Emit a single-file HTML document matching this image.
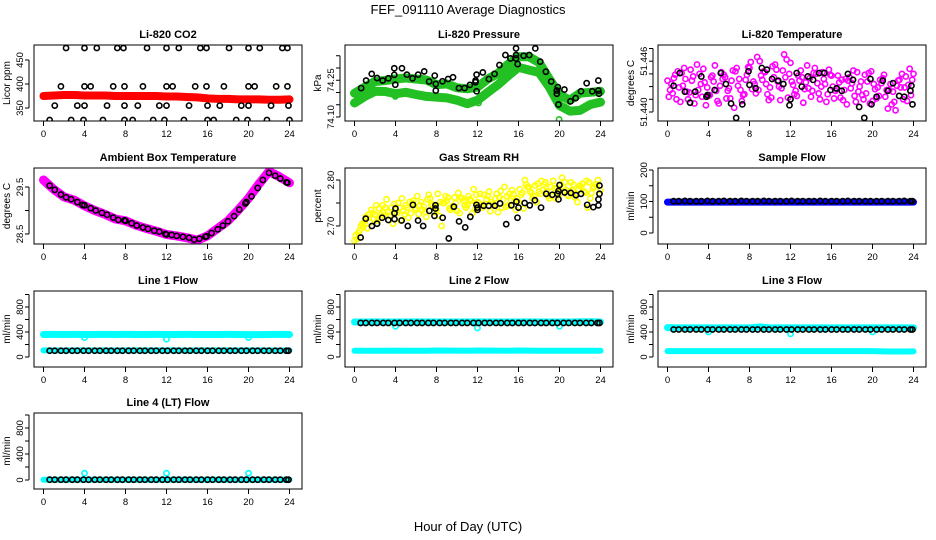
<!DOCTYPE html>
<html><head><meta charset="utf-8">
<style>
html,body{margin:0;padding:0;background:#fff;}
svg{display:block;font-family:"Liberation Sans",sans-serif;}
</style></head>
<body>
<svg id="chart" width="936" height="540" viewBox="0 0 936 540" xmlns="http://www.w3.org/2000/svg">
<text x="468" y="14" font-size="13" text-anchor="middle">FEF_091110  Average Diagnostics</text>
<text x="468" y="531" font-size="13" text-anchor="middle">Hour of Day (UTC)</text>
</svg>
<script>
// ---------- data ----------
const xTicks = [0,4,8,12,16,20,24];
const hours = [0,1,2,3,4,5,6,7,8,9,10,11,12,13,14,15,16,17,18,19,20,21,22,23,24];

const co2Red = [375,376,377,377,376,376,376,375,375,375,375,375,374,374,373,372,370,369,369,368,368,368,367,367,368];
const co2BlackT = [2.2,4.0,5.2,7.2,7.8,10.1,12.0,13.2,15.3,15.9,18.1,20.0,21.1,23.3,23.8,
  1.7,4.0,4.6,6.8,7.9,9.7,12.0,12.6,14.8,15.9,17.6,20.0,20.6,22.7,23.8,
  1.1,3.3,4.0,6.2,7.9,9.2,11.3,12.0,14.2,16.0,17.2,19.3,20.0,22.2,23.9,
  0.6,2.7,3.9,5.8,7.9,8.7,10.7,11.8,13.7,16.0,16.6,18.8,19.9,21.8,24.0];
const co2BlackV = [475,475,475,475,475,475,475,475,475,475,475,475,475,475,475,
  395,395,395,395,395,395,395,395,395,395,395,395,395,395,395,
  355,355,355,355,355,355,355,355,355,355,355,355,355,355,355,
  325,325,325,325,325,325,325,325,325,325,325,325,325,325,325];

const presUpper = [74.197,74.222,74.245,74.249,74.255,74.259,74.255,74.251,74.232,74.235,74.219,74.215,74.222,74.255,74.278,74.316,74.346,74.346,74.323,74.255,74.192,74.168,74.197,74.201,74.205];
const presLower = [74.157,74.184,74.205,74.204,74.195,74.201,74.192,74.184,74.181,74.178,74.168,74.154,74.168,74.201,74.232,74.269,74.303,74.292,74.282,74.222,74.147,74.124,74.127,74.151,74.161];
const presGreenOutT = [3.98,12.1,19.96];
const presGreenOutV = [74.184,74.157,74.09];
const presBlackT = [0.65,1.13,1.68,2.20,2.75,3.30,3.88,3.88,3.98,4.63,5.11,5.66,6.21,6.80,7.28,7.83,7.93,7.93,8.58,9.13,9.61,10.19,10.74,11.26,11.81,11.81,11.91,11.91,12.52,13.11,13.66,14.14,14.72,15.21,15.76,15.76,15.76,15.92,16.50,17.05,17.64,18.12,18.67,19.19,19.74,19.74,19.84,19.90,20.48,21.07,21.58,22.10,22.65,23.20,23.79,23.79,23.85];
const presBlackV = [74.218,74.249,74.276,74.259,74.249,74.258,74.272,74.299,74.232,74.299,74.273,74.258,74.273,74.286,74.245,74.269,74.235,74.208,74.246,74.255,74.262,74.218,74.218,74.231,74.242,74.249,74.205,74.273,74.282,74.255,74.276,74.312,74.353,74.339,74.353,74.339,74.380,74.316,74.350,74.353,74.380,74.326,74.285,74.245,74.208,74.195,74.222,74.151,74.212,74.164,74.177,74.205,74.238,74.205,74.208,74.249,74.195];

const tempA = [51.4437,51.4422,51.4448,51.4431,51.4415,51.4442,51.4426,51.4451,51.4419,51.4436,51.4410,51.4444,51.4428,51.4405,51.4439,51.4421,51.4452,51.4433,51.4460,51.4447,51.4429,51.4456,51.4414,51.4441,51.4458,51.4425,51.4449,51.4435,51.4418,51.4445,51.4430,51.4412,51.4443,51.4427,51.4438,51.4409,51.4434,51.4447,51.4420,51.4436,51.4413,51.4429,51.4440,51.4404,51.4424,51.4437,51.4415,51.4432,51.4445];
const tempB = [51.4426,51.4444,51.4412,51.4439,51.4450,51.4420,51.4433,51.4408,51.4441,51.4425,51.4447,51.4416,51.4437,51.4452,51.4413,51.4444,51.4427,51.4465,51.4438,51.4421,51.4454,51.4436,51.4449,51.4417,51.4432,51.4443,51.4411,51.4428,51.4446,51.4422,51.4439,51.4450,51.4416,51.4435,51.4426,51.4441,51.4419,51.4430,51.4444,51.4410,51.4427,51.4438,51.4418,51.4433,51.4402,51.4429,51.4442,51.4420];
const tempC = [51.4418,51.4440,51.4429,51.4452,51.4423,51.4410,51.4445,51.4435,51.4420,51.4455,51.4431,51.4441,51.4416,51.4448,51.4426,51.4438,51.4459,51.4422,51.4443,51.4433,51.4417,51.4450,51.4428,51.4462,51.4436,51.4419,51.4441,51.4455,51.4425,51.4434,51.4447,51.4421,51.4430,51.4443,51.4414,51.4437,51.4449,51.4424,51.4415,51.4446,51.4433,51.4419,51.4444,51.4426,51.4412,51.4438,51.4429,51.4451];
const tempD = [51.4433,51.4415,51.4446,51.4424,51.4437,51.4456,51.4418,51.4429,51.4443,51.4413,51.4439,51.4425,51.4449,51.4431,51.4420,51.4453,51.4436,51.4426,51.4448,51.4414,51.4441,51.4430,51.4468,51.4445,51.4421,51.4437,51.4427,51.4440,51.4452,51.4415,51.4433,51.4444,51.4425,51.4417,51.4439,51.4428,51.4412,51.4436,51.4422,51.4448,51.4416,51.4434,51.4426,51.4409,51.4431,51.4445,51.4413,51.4438];
const tempBlackT = [0.6,1.2,1.7,2.2,2.7,3.3,3.8,3.9,4.6,5.2,5.7,6.2,6.7,7.3,7.9,8.0,8.6,9.2,9.7,10.2,10.8,11.3,11.9,12.0,12.6,13.1,13.7,14.2,14.8,15.3,15.9,16.5,17.0,17.6,18.1,18.7,19.2,19.8,19.9,20.4,21.0,21.5,22.0,22.6,23.1,23.7,23.8,23.9];
const tempBlackV = [51.4431,51.4446,51.4424,51.4411,51.4424,51.4442,51.4418,51.4420,51.4426,51.4446,51.4433,51.4410,51.4393,51.4409,51.4448,51.4432,51.4428,51.4452,51.4450,51.4439,51.4437,51.4433,51.4408,51.4415,51.4446,51.4430,51.4442,51.4438,51.4446,51.4446,51.4426,51.4428,51.4425,51.4445,51.4438,51.4406,51.4393,51.4439,51.4409,51.4418,51.4437,51.4425,51.4434,51.4419,51.4418,51.4425,51.4431,51.4409];

const ambBand = [29.65,29.45,29.29,29.22,29.10,29.00,28.92,28.82,28.78,28.69,28.62,28.56,28.49,28.46,28.42,28.37,28.46,28.62,28.78,29.01,29.26,29.56,29.83,29.72,29.59];
const ambBlackT = [0.6,1.1,1.7,2.2,2.7,3.3,3.8,4.0,4.6,5.1,5.7,6.2,6.8,7.3,7.9,8.0,8.6,9.1,9.7,10.2,10.8,11.3,11.9,12.0,12.5,13.0,13.6,14.2,14.7,15.2,15.8,15.9,16.4,17.0,17.5,18.0,18.6,19.1,19.7,19.8,20.3,20.9,21.4,22.0,22.6,23.1,23.7,23.8];
const ambBlackV = [29.53,29.44,29.34,29.28,29.24,29.18,29.12,29.11,29.05,29.00,28.95,28.91,28.85,28.80,28.79,28.78,28.73,28.68,28.64,28.61,28.57,28.55,28.50,28.49,28.48,28.46,28.44,28.42,28.38,28.40,28.44,28.45,28.52,28.60,28.68,28.77,28.88,29.02,29.15,29.18,29.30,29.48,29.65,29.80,29.74,29.68,29.60,29.59];

const rhA = [2.668,2.690,2.712,2.708,2.725,2.718,2.740,2.722,2.735,2.712,2.745,2.728,2.738,2.752,2.720,2.748,2.735,2.700,2.755,2.742,2.733,2.760,2.745,2.728,2.752,2.740,2.765,2.748,2.730,2.758,2.745,2.770,2.752,2.738,2.785,2.765,2.775,2.790,2.760,2.782,2.770,2.795,2.776,2.762,2.788,2.772,2.760,2.790,2.778];
const rhB = [2.672,2.705,2.695,2.728,2.712,2.745,2.730,2.705,2.750,2.732,2.718,2.755,2.726,2.742,2.768,2.730,2.722,2.750,2.738,2.762,2.728,2.745,2.758,2.736,2.770,2.748,2.732,2.760,2.776,2.742,2.755,2.735,2.768,2.790,2.772,2.752,2.798,2.775,2.765,2.782,2.805,2.768,2.778,2.752,2.792,2.740,2.782,2.800];
const rhC = [2.680,2.700,2.720,2.735,2.745,2.725,2.758,2.740,2.728,2.760,2.740,2.750,2.765,2.735,2.758,2.745,2.770,2.750,2.762,2.738,2.772,2.755,2.765,2.780,2.750,2.768,2.775,2.745,2.762,2.785,2.770,2.755,2.780,2.800,2.775,2.788,2.770,2.795,2.785,2.760,2.790,2.778,2.795,2.770,2.785,2.798,2.772,2.790];
const rhD = [2.685,2.698,2.725,2.715,2.738,2.730,2.722,2.748,2.740,2.725,2.752,2.735,2.745,2.730,2.760,2.742,2.752,2.765,2.735,2.750,2.762,2.740,2.755,2.768,2.745,2.758,2.752,2.770,2.740,2.765,2.778,2.760,2.772,2.785,2.760,2.792,2.778,2.765,2.798,2.775,2.785,2.765,2.790,2.780,2.775,2.795,2.785,2.770];
const rhBlackT = [0.6,1.1,1.7,2.2,2.7,3.3,3.9,3.9,4.0,4.6,5.2,5.7,6.2,6.7,7.3,7.8,7.9,7.9,8.6,9.2,9.7,10.2,10.8,11.3,11.9,12.0,12.0,12.6,13.1,13.7,14.2,14.8,15.3,15.8,15.9,16.0,16.6,17.1,17.6,18.2,18.7,19.3,19.8,19.9,19.9,20.0,20.5,21.1,21.6,22.1,22.7,23.3,23.8,23.8,23.9,23.9];
const rhBlackV = [2.675,2.716,2.700,2.705,2.718,2.713,2.715,2.728,2.738,2.712,2.700,2.746,2.712,2.700,2.733,2.722,2.745,2.738,2.718,2.673,2.742,2.710,2.697,2.720,2.746,2.740,2.735,2.744,2.744,2.744,2.749,2.704,2.745,2.753,2.718,2.740,2.750,2.745,2.756,2.740,2.770,2.768,2.770,2.758,2.776,2.789,2.773,2.772,2.767,2.770,2.746,2.741,2.745,2.758,2.770,2.788];

const flowT = [0.6,1.1,1.7,2.2,2.8,3.3,3.9,4.4,5.0,5.5,6.1,6.6,7.2,7.7,8.3,8.8,9.4,9.9,10.5,11.0,11.6,12.1,12.7,13.2,13.8,14.3,14.9,15.4,16.0,16.5,17.1,17.6,18.2,18.7,19.3,19.8,20.4,20.9,21.5,22.0,22.6,23.1,23.7,23.9];
const sampleBlue = [98,98,98,98,98,98,98,98,98,98,98,98,98,98,98,98,98,98,98,98,98,98,98,98,98];
const sampleBlack = [101,101,102,101,101,101,102,101,101,102,101,101,102,101,101,101,102,101,101,101,101,102,101,101,101,101,102,101,101,101,101,102,101,101,101,101,101,101,101,101,101,102,101,101];
const l1Upper = [360,362,360,361,360,360,361,360,362,360,360,361,360,360,361,360,360,360,361,360,358,358,360,361,360];
const l1Lower = [105,105,104,105,105,105,105,104,105,105,105,105,105,105,104,105,105,105,105,105,105,105,105,104,105];
const l1Black = [100,100,100,100,100,100,100,100,100,100,100,100,100,100,100,100,100,100,100,100,100,100,100,100,100,100,100,100,100,100,100,100,100,100,100,100,100,100,100,100,100,100,100,100];
const l1OutT = [4.0,12.0,20.0];
const l1OutV = [310,285,310];
const l2Upper = [560,560,561,560,560,560,561,560,560,560,560,560,561,560,560,560,560,561,560,560,560,560,561,565,560];
const l2Lower = [100,100,100,100,102,100,100,100,104,102,102,100,104,103,102,100,104,103,100,100,100,100,100,100,100];
const l2Black = [545,545,545,545,545,545,545,545,545,545,545,545,545,545,545,545,545,545,545,545,545,545,545,545,545,545,545,545,545,545,545,545,545,545,545,545,545,545,545,545,545,545,545,545];
const l2OutT = [4.0,12.0,20.0];
const l2OutV = [490,465,490];
const l3Upper = [470,465,465,465,465,465,465,465,465,480,465,465,465,465,465,465,465,465,465,465,465,465,465,465,465];
const l3Lower = [95,95,95,95,95,95,95,95,95,95,95,95,95,95,95,95,95,95,95,95,95,90,88,88,90];
const l3Black = [440,440,440,440,440,440,440,440,440,440,440,440,440,440,440,440,440,440,440,440,440,440,440,440,440,440,440,440,440,440,440,440,440,440,440,440,440,440,440,440,440,440,440,440];
const l3OutT = [4.0,12.0,20.0];
const l3OutV = [400,370,400];
const l4Cyan = [5,5,5,5,5,5,5,5,5,5,5,5,5,5,5,5,5,5,5,5,5,5,5,5,5];
const l4Black = [5,5,5,5,5,5,5,5,5,5,5,5,5,5,5,5,5,5,5,5,5,5,5,5,5,5,5,5,5,5,5,5,5,5,5,5,5,5,5,5,5,5,5,5];
const l4OutT = [4.0,12.0,20.0];
const l4OutV = [105,105,105];

// ---------- drawing ----------
const NS = 'http://www.w3.org/2000/svg';
const svg = document.getElementById('chart');
function mk(tag, attrs, parent){
  const e = document.createElementNS(NS, tag);
  for (const k in attrs) e.setAttribute(k, attrs[k]);
  (parent||svg).appendChild(e);
  return e;
}
const W = 268, H = 76;
let clipN = 0;

function makePanel(cfg){
  const g = mk('g', {});
  
  
  const L = cfg.L, T = cfg.T;
  const xs = t => L + 9.5 + t * 10.25;
  const ys = v => cfg.refY - (v - cfg.refV) * cfg.k;
  clipN++;
  const cp = mk('clipPath', {id: 'cp' + clipN}, g);
  mk('rect', {x: L, y: T, width: W, height: H}, cp);
  const plot = mk('g', {'clip-path': 'url(#cp' + clipN + ')'}, g);
  const tt = mk('text', {x: L + W/2, y: T - 7, 'font-size': 11, 'font-weight': 'bold', 'text-anchor': 'middle'}, g);
  tt.textContent = cfg.title;
  
  
  const yt = mk('text', {x: 0, y: 0, 'font-size': 10, 'text-anchor': 'middle', transform: 'translate(' + (L - 24) + ',' + (T + H/2) + ') rotate(-90)'}, g);
  yt.textContent = cfg.ylab;
  
  
  xTicks.forEach(t => {
    const x = xs(t);
    mk('line', {x1: x, y1: T + H, x2: x, y2: T + H + 5, stroke: '#000', 'stroke-width': 1}, g);
    const lb = mk('text', {x: x, y: T + H + 16, 'font-size': 9.5, 'text-anchor': 'middle'}, g);
    lb.textContent = t;
    
    
  });
  const ty = cfg.ticks.map(ys);
  mk('line', {x1: L - 5, y1: Math.min(...ty), x2: L - 5, y2: Math.max(...ty), stroke: '#000', 'stroke-width': 1}, g);
  cfg.ticks.forEach((v, i) => {
    const y = ys(v);
    mk('line', {x1: L - 5, y1: y, x2: L - 9, y2: y, stroke: '#000', 'stroke-width': 1}, g);
    if (cfg.labels[i]) {
      const lb = mk('text', {x: 0, y: 0, 'font-size': 9.5, 'text-anchor': 'middle', transform: 'translate(' + (L - 11) + ',' + y + ') rotate(-90)'}, g);
      lb.textContent = cfg.labels[i];
      
      
    }
  });
  (cfg.bands || []).forEach(b => {
    const pts = b.v.map((v, i) => xs(b.t[i]).toFixed(1) + ',' + ys(v).toFixed(1)).join(' ');
    const pl = mk('polyline', {points: pts, fill: 'none', stroke: b.c, 'stroke-width': b.w, 'stroke-linejoin': 'round', 'stroke-linecap': 'round'}, plot);
    
    
  });
  (cfg.pts || []).forEach(s => {
    s.v.forEach((v, i) => {
      const c = mk('circle', {cx: xs(s.t[i]), cy: ys(v), r: s.r || 2.6, fill: 'none', stroke: s.c, 'stroke-width': s.sw || 1.6}, plot);
      
      
    });
  });
  const bx = mk('rect', {x: L, y: T, width: W, height: H, fill: 'none', stroke: '#000', 'stroke-width': 1}, g);
  
  
}

function halfT(n, off){ const a = []; for (let i = 0; i < n; i++) a.push(off + i * 0.5); return a; }

const C1 = 34, C2 = 345, C3 = 658;
const R1 = 45, R2 = 168, R3 = 291, R4 = 413;
const flowTicks = [0,200,400,600,800,1000];
const flowLabels = ['0',null,'400',null,'800',null];

makePanel({name:'co2', title:'Li-820 CO2', ylab:'Licor ppm', L:C1, T:R1, refV:350, refY:108, k:0.48,
  ticks:[350,400,450], labels:['350','400','450'],
  bands:[{n:'red-series', t:hours, v:co2Red, c:'#ff0000', w:8}],
  pts:[{n:'black', t:co2BlackT, v:co2BlackV, c:'#000'}]});

makePanel({name:'pressure', title:'Li-820 Pressure', ylab:'kPa', L:C2, T:R1, refV:74.10, refY:117, k:245,
  ticks:[74.10,74.15,74.20,74.25,74.30,74.35], labels:['74.10',null,null,'74.25',null,null],
  bands:[{n:'green-upper', t:hours, v:presUpper, c:'#22c022', w:9},{n:'green-lower', t:hours, v:presLower, c:'#22c022', w:9}],
  pts:[{n:'green-outlier', t:presGreenOutT, v:presGreenOutV, c:'#22c022'},{n:'black', t:presBlackT, v:presBlackV, c:'#000'}]});

makePanel({name:'temperature', title:'Li-820 Temperature', ylab:'degrees C', L:C3, T:R1, refV:51.440, refY:112, k:8467,
  ticks:[51.440,51.4415,51.443,51.4445,51.446,51.4475], labels:['51.440',null,null,null,'51.446',null],
  pts:[{n:'magenta-a', t:halfT(49,0), v:tempA, c:'#ff00ff'},{n:'magenta-b', t:halfT(48,0.25), v:tempB, c:'#ff00ff'},
       {n:'magenta-c', t:halfT(48,0.125), v:tempC, c:'#ff00ff'},{n:'magenta-d', t:halfT(48,0.375), v:tempD, c:'#ff00ff'},
       {n:'black', t:tempBlackT, v:tempBlackV, c:'#000'}]});

makePanel({name:'ambient-box-temp', title:'Ambient Box Temperature', ylab:'degrees C', L:C1, T:R2, refV:29.5, refY:187, k:47,
  ticks:[28.5,29.0,29.5], labels:['28.5',null,'29.5'],
  bands:[{n:'magenta-series', t:hours, v:ambBand, c:'#ff00ff', w:9}],
  pts:[{n:'black', t:ambBlackT, v:ambBlackV, c:'#000'}]});

makePanel({name:'gas-stream-rh', title:'Gas Stream RH', ylab:'percent', L:C2, T:R2, refV:2.80, refY:180, k:460,
  ticks:[2.70,2.75,2.80], labels:['2.70',null,'2.80'],
  pts:[{n:'yellow-a', t:halfT(49,0), v:rhA, c:'#ffff00'},{n:'yellow-b', t:halfT(48,0.25), v:rhB, c:'#ffff00'},{n:'yellow-c', t:halfT(48,0.125), v:rhC, c:'#ffff00'},
       {n:'yellow-d', t:halfT(48,0.375), v:rhD, c:'#ffff00'},
       {n:'black', t:rhBlackT, v:rhBlackV, c:'#000'}]});

makePanel({name:'sample-flow', title:'Sample Flow', ylab:'ml/min', L:C3, T:R2, refV:0, refY:233, k:0.315,
  ticks:[0,50,100,150,200], labels:['0',null,'100',null,'200'],
  bands:[{n:'blue-series', t:hours, v:sampleBlue, c:'#0000ff', w:7}],
  pts:[{n:'black', t:flowT, v:sampleBlack, c:'#000'}]});

makePanel({name:'line1-flow', title:'Line 1 Flow', ylab:'ml/min', L:C1, T:R3, refV:0, refY:357, k:0.0625,
  ticks:flowTicks, labels:flowLabels,
  bands:[{n:'cyan-upper', t:hours, v:l1Upper, c:'#00ffff', w:7},{n:'cyan-lower', t:hours, v:l1Lower, c:'#00ffff', w:6}],
  pts:[{n:'cyan-outlier', t:l1OutT, v:l1OutV, c:'#00ffff'},{n:'black', t:flowT, v:l1Black, c:'#000'}]});

makePanel({name:'line2-flow', title:'Line 2 Flow', ylab:'ml/min', L:C2, T:R3, refV:0, refY:357, k:0.0625,
  ticks:flowTicks, labels:flowLabels,
  bands:[{n:'cyan-upper', t:hours, v:l2Upper, c:'#00ffff', w:7},{n:'cyan-lower', t:hours, v:l2Lower, c:'#00ffff', w:6}],
  pts:[{n:'cyan-outlier', t:l2OutT, v:l2OutV, c:'#00ffff'},{n:'black', t:flowT, v:l2Black, c:'#000'}]});

makePanel({name:'line3-flow', title:'Line 3 Flow', ylab:'ml/min', L:C3, T:R3, refV:0, refY:357, k:0.0625,
  ticks:flowTicks, labels:flowLabels,
  bands:[{n:'cyan-upper', t:hours, v:l3Upper, c:'#00ffff', w:7},{n:'cyan-lower', t:hours, v:l3Lower, c:'#00ffff', w:6}],
  pts:[{n:'cyan-outlier', t:l3OutT, v:l3OutV, c:'#00ffff'},{n:'black', t:flowT, v:l3Black, c:'#000'}]});

makePanel({name:'line4-flow', title:'Line 4 (LT) Flow', ylab:'ml/min', L:C1, T:R4, refV:0, refY:480, k:0.065,
  ticks:flowTicks, labels:flowLabels,
  bands:[{n:'cyan-series', t:hours, v:l4Cyan, c:'#00ffff', w:6}],
  pts:[{n:'cyan-outlier', t:l4OutT, v:l4OutV, c:'#00ffff'},{n:'black', t:flowT, v:l4Black, c:'#000'}]});
</script>
</body></html>
